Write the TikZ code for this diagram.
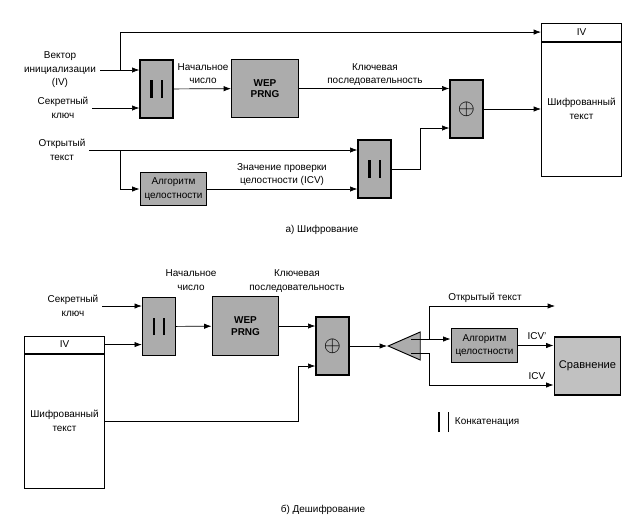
\documentclass[tikz,border=0pt]{standalone}
\usepackage{fontspec}
\setmainfont{Liberation Sans}
\usetikzlibrary{shapes.geometric,positioning,calc,arrows.meta}
\colorlet{boxgray}{gray!65}
\newcommand{\concatbars}[2]{\rule{#1}{#2}\hspace{0.24cm}\rule{#1}{#2}}

\begin{document}
\begin{tikzpicture}[x=0.03cm, y=-0.03cm, font=\fontsize{8.5}{11.5}\selectfont,
  block/.style={draw, line width=1.1pt, fill=boxgray, align=center, inner sep=1pt},
  narrow/.style={block, minimum width=0.99cm, minimum height=1.74cm},
  prng/.style={block, minimum width=2cm, minimum height=1.76cm, font=\fontsize{8.5}{10}\selectfont\bfseries},
  algo/.style={block, minimum width=2cm, minimum height=1.01cm},
  cipherbox/.style={draw, line width=0.8pt, fill=white, align=center, minimum width=2.4cm},
  splitter/.style={isosceles triangle, isosceles triangle stretches, shape border rotate=180, draw, line width=0.8pt, fill=boxgray, minimum width=0.84cm, minimum height=0.96cm, inner sep=0pt},
  txt/.style={align=center},
  link/.style={line width=0.6pt, -{Latex[length=2.2mm,width=1.6mm]}}]
\useasboundingbox (0,0) rectangle (632,526);

% Encryption

\node [txt] (ivtitle) at (60,70) {Вектор\\инициализации\\(IV)};
\node [txt] (keytitle) at (63,108) {Секретный\\ключ};
\node [txt] (plaintitle) at (62,150) {Открытый\\текст};

\node [narrow] (concativ) at (156.5,89) {\concatbars{1.8pt}{0.52cm}};
\node [prng] (prngenc) at (265,88.5) {WEP\\PRNG};
\node [narrow] (xorenc) at (466.5,109) {\scalebox{2.2}{$\oplus$}};
\node [cipherbox, minimum height=4.02cm] (cipherenc) at (581.5,109) {Шифрованный\\текст};
\node [cipherbox, minimum height=0.54cm, anchor=south] (ivenc) at (cipherenc.north) {IV};
\node [algo] (algenc) at (173.5,189) {Алгоритм\\целостности};
\node [narrow] (concaticv) at (374.5,169) {\concatbars{1.8pt}{0.52cm}};

\node [txt] (seedenc) at (203,73.5) {Начальное\\число};
\node [txt] (streamenc) at (375,74.5) {Ключевая\\последовательность};
\node [txt] (icvenc) at (282,174.5) {Значение проверки\\целостности (ICV)};
\node [txt] (captionenc) at (322,230) {а) Шифрование};

\coordinate (ivsplit) at (120,70);
\coordinate (plainsplit) at (120,150);

\draw[link] (ivtitle.east) -- (ivtitle.east -| concativ.west);
\draw[link] (ivsplit) |- (ivenc.west);
\draw[link] (keytitle.east) -- (keytitle.east -| concativ.west);
\draw[link] (concativ) -- (prngenc);
\draw[link] (prngenc.east) -- (prngenc.east -| xorenc.west);
\draw[link] (xorenc) -- (cipherenc);
\draw[link] (plaintitle.east) -- (plaintitle.east -| concaticv.west);
\draw[link] (plainsplit) |- (algenc.west);
\draw[link] (algenc.east) -- (algenc.east -| concaticv.west);
\draw[link] (concaticv.east) -- ++(29,0) |- ($(xorenc.west)+(0,19)$);

% Decryption

\node [txt] (keytitledec) at (73,306) {Секретный\\ключ};
\node [narrow] (concatdec) at (159,326.5) {\concatbars{1.8pt}{0.52cm}};
\node [prng] (prngdec) at (245.5,326) {WEP\\PRNG};
\node [narrow] (xordec) at (332.5,346) {\scalebox{2.2}{$\oplus$}};
\node [cipherbox, minimum height=4.02cm] (cipherdec) at (64.5,421) {Шифрованный\\текст};
\node [cipherbox, minimum height=0.51cm, anchor=south] (ivdec) at (cipherdec.north) {IV};
\node [splitter, anchor=apex] (split) at (387,346) {};
\node [algo] (algdec) at (484.5,345.5) {Алгоритм\\целостности};
\node [block, fill=boxgray!75, minimum width=2cm, minimum height=1.74cm, font=\fontsize{9.5}{11}\selectfont] (compare) at (587.5,366) {Сравнение};

\node [txt] (seeddec) at (191,280) {Начальное\\число};
\node [txt] (streamdec) at (297,281) {Ключевая\\последовательность};
\node [txt] (plainout) at (485,298) {Открытый текст};
\node [txt] (icvprime) at (537,336) {ICV'};
\node [txt] (icvplain) at (537,376) {ICV};
\node (legendbars) at (443.5,422) {\concatbars{1.3pt}{0.6cm}};
\node [right=-2pt of legendbars] (legendtext) {Конкатенация};
\node [txt] (captiondec) at (323,510) {б) Дешифрование};

\coordinate (plainend) at (555,306);

\draw[link] (keytitledec.east) -- (keytitledec.east -| concatdec.west);
\draw[link] (ivdec.east) -- (ivdec.east -| concatdec.west);
\draw[link] (concatdec) -- (prngdec);
\draw[link] (prngdec.east) -- (prngdec.east -| xordec.west);
\draw[link] (cipherdec.east) -- ++(193,0) |- ($(xordec.west)+(0,20)$);
\draw[link] (xordec) -- (split.apex);
\draw[link] ($(split.base)+(0,-7)$) -- ($(algdec.west)+(0,-6.5)$);
\draw[link] ($(split.base)+(18,-7)$) |- (plainend);
\draw[link] ($(split.base)+(0,7)$) -- ++(18,0) |- ($(compare.west)+(0,19)$);
\draw[link] (algdec.east) -- (algdec.east -| compare.west);
\end{tikzpicture}
\end{document}
